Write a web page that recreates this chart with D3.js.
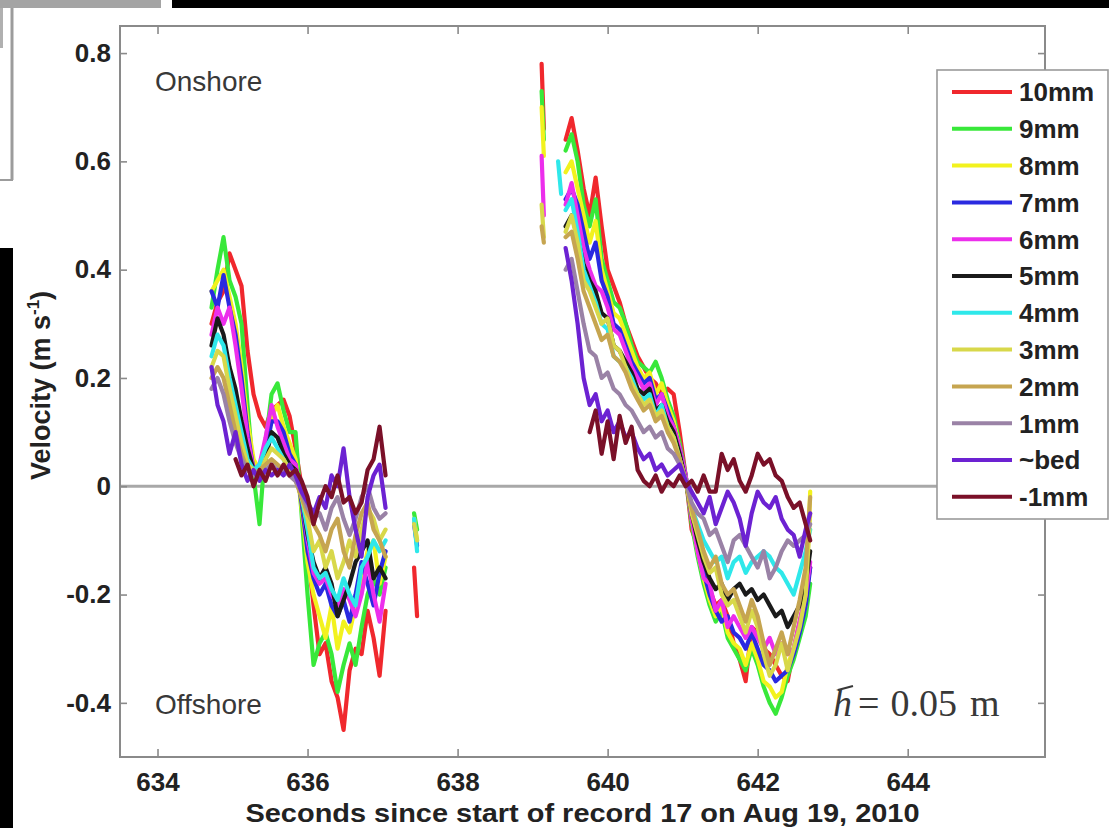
<!DOCTYPE html>
<html>
<head>
<meta charset="utf-8">
<script src="https://cdn.jsdelivr.net/npm/d3@7"></script>
<style>
  html, body { margin: 0; padding: 0; background: #fff; }
  svg { display: block; }
</style>
</head>
<body>
<svg id="chart" width="1109" height="828"></svg>
<script>
// ---- data -------------------------------------------------------------
const seriesLabels = ["10mm", "9mm", "8mm", "7mm", "6mm", "5mm", "4mm", "3mm", "2mm", "1mm", "~bed", "-1mm"];
const seriesColors = ["#f0282d", "#38e83a", "#f2f21e", "#2a2ae0", "#ec2eec", "#1a1a1a",
                      "#2ee8ea", "#d8d84a", "#c6a550", "#9a82a6", "#6c22d2", "#7a1028"];

const xTicks = [634, 636, 638, 640, 642, 644];
const yTicks = [-0.4, -0.2, 0, 0.2, 0.4, 0.6, 0.8];
const yTickLabels = ["-0.4", "-0.2", "0", "0.2", "0.4", "0.6", "0.8"];

// first wave (seconds)
const timeWave1 = [634.72, 634.80, 634.88, 634.96, 635.04, 635.12, 635.20, 635.28, 635.36, 635.44,
                   635.52, 635.60, 635.68, 635.76, 635.84, 635.92, 636.00, 636.08, 636.16, 636.24,
                   636.32, 636.40, 636.48, 636.56, 636.64, 636.72, 636.80, 636.88, 636.96, 637.04];
// short isolated fragments (null = break)
const timeFrag = [637.42, 637.46, null, 639.12, 639.15, null, 639.34, 639.38];
// second wave (seconds)
const timeWave2 = [639.44, 639.52, 639.60, 639.68, 639.76, 639.84, 639.92, 640.00, 640.08, 640.16,
                   640.24, 640.32, 640.40, 640.48, 640.56, 640.64, 640.72, 640.80, 640.88, 640.96,
                   641.04, 641.12, 641.20, 641.28, 641.36, 641.44, 641.52, 641.60, 641.68, 641.76,
                   641.84, 641.92, 642.00, 642.08, 642.16, 642.24, 642.32, 642.40, 642.48, 642.56,
                   642.64, 642.70];

// velocities (m/s), first wave
const w1_p10 = [0.30, 0.34, 0.36, 0.43, 0.40, 0.37, 0.25, 0.17, 0.13, 0.11, 0.14, 0.15, 0.16, 0.13, 0.07, 0.00, -0.12, -0.22, -0.31, -0.29, -0.36, -0.39, -0.45, -0.34, -0.30, -0.31, -0.23, -0.28, -0.35, -0.23];
const w1_p9  = [0.33, 0.40, 0.46, 0.38, 0.35, 0.30, 0.15, 0.02, -0.07, 0.08, 0.17, 0.19, 0.14, 0.10, 0.10, -0.05, -0.20, -0.33, -0.29, -0.27, -0.31, -0.38, -0.33, -0.29, -0.33, -0.26, -0.20, -0.17, -0.20, -0.15];
const w1_p8  = [0.36, 0.38, 0.40, 0.35, 0.30, 0.22, 0.12, 0.05, 0.03, 0.08, 0.13, 0.15, 0.11, 0.08, 0.05, -0.04, -0.14, -0.20, -0.24, -0.28, -0.22, -0.30, -0.25, -0.27, -0.22, -0.17, -0.12, -0.10, -0.18, -0.13];
const w1_p7  = [0.36, 0.33, 0.39, 0.33, 0.28, 0.20, 0.10, 0.03, 0.02, 0.06, 0.12, 0.12, 0.10, 0.06, 0.04, -0.03, -0.12, -0.17, -0.20, -0.18, -0.22, -0.24, -0.21, -0.25, -0.20, -0.14, -0.18, -0.22, -0.16, -0.12];
const w1_p6  = [0.28, 0.33, 0.30, 0.33, 0.26, 0.18, 0.09, 0.03, 0.04, 0.09, 0.15, 0.11, 0.08, 0.05, 0.04, -0.02, -0.10, -0.16, -0.18, -0.17, -0.20, -0.22, -0.19, -0.21, -0.24, -0.20, -0.14, -0.20, -0.25, -0.18];
const w1_p5  = [0.26, 0.31, 0.28, 0.22, 0.18, 0.12, 0.07, 0.03, 0.02, 0.05, 0.10, 0.09, 0.06, 0.04, 0.03, -0.02, -0.09, -0.14, -0.17, -0.15, -0.18, -0.24, -0.21, -0.18, -0.14, -0.12, -0.10, -0.17, -0.15, -0.17];
const w1_p4  = [0.24, 0.28, 0.26, 0.20, 0.15, 0.10, 0.05, 0.03, 0.04, 0.07, 0.09, 0.07, 0.05, 0.03, 0.02, -0.02, -0.08, -0.15, -0.17, -0.16, -0.19, -0.21, -0.17, -0.20, -0.22, -0.15, -0.13, -0.10, -0.12, -0.10];
const w1_p3  = [0.22, 0.25, 0.24, 0.18, 0.13, 0.08, 0.04, 0.03, 0.02, 0.05, 0.07, 0.06, 0.05, 0.03, 0.02, -0.02, -0.06, -0.12, -0.10, -0.15, -0.12, -0.17, -0.14, -0.10, -0.13, -0.08, -0.04, -0.06, -0.10, -0.08];
const w1_p2  = [0.20, 0.22, 0.20, 0.15, 0.10, 0.06, 0.03, 0.02, 0.03, 0.04, 0.05, 0.04, 0.03, 0.02, 0.01, -0.02, -0.05, -0.07, -0.09, -0.12, -0.08, -0.06, -0.12, -0.15, -0.09, -0.05, -0.03, -0.08, -0.10, -0.13];
const w1_p1  = [0.18, 0.20, 0.17, 0.12, 0.08, 0.05, 0.03, 0.02, 0.02, 0.03, 0.04, 0.03, 0.03, 0.02, 0.01, -0.01, -0.04, -0.06, -0.05, -0.08, -0.04, -0.02, -0.06, -0.09, -0.06, -0.02, 0.00, -0.04, -0.06, -0.05];
const w1_bed = [0.22, 0.15, 0.12, 0.06, 0.10, 0.04, 0.01, 0.03, 0.01, 0.03, 0.02, 0.03, 0.02, 0.04, 0.02, -0.01, -0.03, -0.05, -0.02, -0.04, 0.02, 0.00, 0.07, -0.02, -0.08, -0.13, -0.02, 0.02, 0.04, -0.04];
const w1_m1  = [null, null, null, null, 0.05, 0.02, 0.04, 0.00, 0.03, 0.01, 0.04, 0.02, 0.04, 0.02, 0.03, 0.01, -0.02, -0.07, -0.03, 0.00, -0.02, 0.02, -0.03, -0.02, -0.05, -0.03, 0.03, 0.05, 0.11, 0.02];

// velocities (m/s), isolated fragments
const fr_p10 = [-0.15, -0.24, null, 0.78, 0.66, null, null, null];
const fr_p9  = [-0.05, -0.08, null, 0.73, 0.64, null, null, null];
const fr_p8  = [-0.06, -0.10, null, 0.70, 0.61, null, null, null];
const fr_p7  = [-0.07, -0.11, null, null, null, null, null, null];
const fr_p6  = [null, null, null, 0.61, 0.50, null, null, null];
const fr_p5  = [null, null, null, null, null, null, null, null];
const fr_p4  = [-0.06, -0.12, null, null, null, null, 0.60, 0.54];
const fr_p3  = [-0.07, -0.10, null, 0.52, 0.46, null, null, null];
const fr_p2  = [null, null, null, 0.48, 0.45, null, null, null];
const fr_p1  = [null, null, null, null, null, null, null, null];
const fr_bed = [null, null, null, null, null, null, null, null];
const fr_m1  = [null, null, null, null, null, null, null, null];

// velocities (m/s), second wave
const w2_p10 = [0.64, 0.68, 0.62, 0.55, 0.50, 0.57, 0.48, 0.40, 0.37, 0.34, 0.30, 0.27, 0.24, 0.22, 0.20, 0.19, 0.17, 0.18, 0.17, 0.10, 0.02, -0.08, -0.11, -0.16, -0.19, -0.22, -0.21, -0.24, -0.29, -0.32, -0.36, -0.26, -0.27, -0.30, -0.31, -0.33, -0.35, -0.36, -0.30, -0.25, -0.20, -0.15];
const w2_p9  = [0.62, 0.65, 0.60, 0.52, 0.48, 0.53, 0.42, 0.38, 0.34, 0.33, 0.30, 0.26, 0.23, 0.22, 0.21, 0.23, 0.20, 0.16, 0.13, 0.08, 0.02, -0.07, -0.13, -0.18, -0.22, -0.25, -0.23, -0.28, -0.30, -0.32, -0.34, -0.30, -0.33, -0.37, -0.40, -0.42, -0.39, -0.35, -0.32, -0.28, -0.24, -0.18];
const w2_p8  = [0.58, 0.60, 0.55, 0.50, 0.45, 0.49, 0.40, 0.36, 0.32, 0.31, 0.28, 0.25, 0.22, 0.20, 0.21, 0.17, 0.19, 0.15, 0.12, 0.07, 0.02, -0.06, -0.12, -0.17, -0.21, -0.24, -0.22, -0.27, -0.29, -0.30, -0.33, -0.29, -0.32, -0.36, -0.37, -0.39, -0.38, -0.33, -0.30, -0.26, -0.22, -0.01];
const w2_p7  = [0.53, 0.55, 0.52, 0.47, 0.42, 0.45, 0.38, 0.35, 0.30, 0.29, 0.26, 0.23, 0.21, 0.19, 0.20, 0.16, 0.17, 0.14, 0.11, 0.07, 0.02, -0.06, -0.11, -0.16, -0.20, -0.23, -0.25, -0.24, -0.27, -0.28, -0.30, -0.27, -0.30, -0.33, -0.34, -0.36, -0.35, -0.34, -0.31, -0.27, -0.22, -0.15];
const w2_p6  = [0.52, 0.56, 0.50, 0.44, 0.40, 0.37, 0.36, 0.33, 0.29, 0.28, 0.25, 0.22, 0.20, 0.18, 0.19, 0.15, 0.17, 0.13, 0.11, 0.07, 0.02, -0.06, -0.12, -0.17, -0.18, -0.23, -0.21, -0.26, -0.24, -0.26, -0.28, -0.26, -0.28, -0.30, -0.28, -0.31, -0.29, -0.31, -0.30, -0.25, -0.20, -0.14];
const w2_p5  = [0.48, 0.50, 0.46, 0.41, 0.38, 0.36, 0.32, 0.31, 0.26, 0.25, 0.23, 0.21, 0.18, 0.17, 0.18, 0.14, 0.15, 0.12, 0.10, 0.06, 0.01, -0.05, -0.10, -0.14, -0.17, -0.19, -0.18, -0.21, -0.19, -0.18, -0.20, -0.19, -0.21, -0.20, -0.22, -0.24, -0.23, -0.26, -0.24, -0.22, -0.18, -0.12];
const w2_p4  = [0.51, 0.53, 0.47, 0.40, 0.37, 0.34, 0.30, 0.29, 0.24, 0.23, 0.22, 0.20, 0.17, 0.16, 0.17, 0.13, 0.15, 0.11, 0.09, 0.05, 0.01, -0.04, -0.07, -0.10, -0.12, -0.14, -0.13, -0.17, -0.14, -0.13, -0.16, -0.14, -0.13, -0.12, -0.13, -0.15, -0.16, -0.18, -0.20, -0.16, -0.12, -0.08];
const w2_p3  = [0.47, 0.50, 0.45, 0.38, 0.36, 0.33, 0.30, 0.31, 0.26, 0.25, 0.22, 0.19, 0.17, 0.15, 0.16, 0.13, 0.14, 0.11, 0.09, 0.05, 0.01, -0.05, -0.09, -0.13, -0.16, -0.15, -0.20, -0.22, -0.21, -0.24, -0.27, -0.23, -0.26, -0.31, -0.35, -0.33, -0.29, -0.34, -0.30, -0.26, -0.20, -0.05];
const w2_p2  = [0.46, 0.47, 0.42, 0.36, 0.33, 0.30, 0.27, 0.28, 0.24, 0.23, 0.21, 0.18, 0.16, 0.14, 0.15, 0.12, 0.13, 0.10, 0.08, 0.05, 0.01, -0.04, -0.08, -0.12, -0.15, -0.13, -0.18, -0.20, -0.19, -0.22, -0.25, -0.21, -0.24, -0.29, -0.33, -0.30, -0.27, -0.31, -0.26, -0.21, -0.15, -0.02];
const w2_p1  = [0.40, 0.42, 0.36, 0.30, 0.25, 0.24, 0.20, 0.21, 0.18, 0.17, 0.15, 0.14, 0.12, 0.10, 0.11, 0.09, 0.10, 0.07, 0.06, 0.04, 0.01, -0.03, -0.05, -0.06, -0.09, -0.08, -0.11, -0.14, -0.10, -0.09, -0.11, -0.13, -0.15, -0.12, -0.17, -0.15, -0.12, -0.10, -0.11, -0.10, -0.09, -0.07];
const w2_bed = [0.44, 0.38, 0.30, 0.20, 0.15, 0.17, 0.12, 0.14, 0.10, 0.12, 0.09, 0.10, 0.07, 0.05, 0.06, 0.03, 0.04, 0.02, 0.03, 0.04, 0.01, -0.01, -0.03, -0.05, -0.02, -0.07, -0.04, -0.01, -0.03, -0.06, -0.11, -0.05, -0.01, -0.03, -0.04, -0.02, -0.06, -0.08, -0.09, -0.13, -0.08, -0.05];
const w2_m1  = [null, null, null, null, 0.10, 0.14, 0.06, 0.12, 0.05, 0.13, 0.08, 0.11, 0.03, 0.01, 0.00, 0.02, -0.01, 0.01, 0.00, 0.02, 0.00, 0.01, -0.01, 0.02, -0.01, -0.01, 0.06, 0.03, 0.05, 0.01, -0.01, 0.02, 0.06, 0.04, 0.05, 0.02, 0.01, -0.02, -0.04, -0.03, -0.07, -0.10];

const wave1Values = [w1_p10, w1_p9, w1_p8, w1_p7, w1_p6, w1_p5, w1_p4, w1_p3, w1_p2, w1_p1, w1_bed, w1_m1];
const fragValues  = [fr_p10, fr_p9, fr_p8, fr_p7, fr_p6, fr_p5, fr_p4, fr_p3, fr_p2, fr_p1, fr_bed, fr_m1];
const wave2Values = [w2_p10, w2_p9, w2_p8, w2_p7, w2_p6, w2_p5, w2_p4, w2_p3, w2_p2, w2_p1, w2_bed, w2_m1];

// ---- layout -----------------------------------------------------------
const svg = d3.select("#chart");
const SANS = "'Liberation Sans', Arial, Helvetica, sans-serif";
const SERIF = "'Liberation Serif', 'Times New Roman', serif";
const plot = { left: 120, right: 1045, top: 26, bottom: 757 };

// surrounding page fragments
svg.append("rect").attr("x", 0).attr("y", 0).attr("width", 1109).attr("height", 828).attr("fill", "#fff");
svg.append("rect").attr("x", 0).attr("y", 0).attr("width", 161).attr("height", 8).attr("fill", "#a4a4a4");
svg.append("rect").attr("x", 172).attr("y", 0).attr("width", 937).attr("height", 8).attr("fill", "#000");
svg.append("rect").attr("x", 0).attr("y", 8).attr("width", 3).attr("height", 40).attr("fill", "#b0b0b0");
svg.append("line").attr("x1", 12).attr("x2", 12).attr("y1", 8).attr("y2", 180).attr("stroke", "#9c9c9c").attr("stroke-width", 3);
svg.append("line").attr("x1", 0).attr("x2", 13).attr("y1", 180).attr("y2", 180).attr("stroke", "#9c9c9c").attr("stroke-width", 2);
svg.append("rect").attr("x", 0).attr("y", 248).attr("width", 13).attr("height", 580).attr("fill", "#000");

const x = d3.scaleLinear().domain([633.5, 645.83]).range([plot.left, plot.right]);
const y = d3.scaleLinear().domain([-0.5, 0.85]).range([plot.bottom, plot.top]);

const defs = svg.append("defs");
defs.append("clipPath").attr("id", "plotClip")
  .append("rect").attr("x", plot.left).attr("y", plot.top)
  .attr("width", plot.right - plot.left).attr("height", plot.bottom - plot.top);

// zero reference line
svg.append("line")
  .attr("x1", plot.left).attr("x2", plot.right)
  .attr("y1", y(0)).attr("y2", y(0))
  .attr("stroke", "#a8a8a8").attr("stroke-width", 3);

// velocity traces, drawn 10mm first so the near-bed records sit on top
const line = d3.line()
  .defined(d => d[0] != null && d[1] != null)
  .x(d => x(d[0])).y(d => y(d[1]));

const traces = svg.append("g").attr("clip-path", "url(#plotClip)");
seriesLabels.forEach((name, i) => {
  const parts = [
    d3.zip(timeWave1, wave1Values[i]),
    d3.zip(timeFrag, fragValues[i]),
    d3.zip(timeWave2, wave2Values[i])
  ];
  parts.forEach(pts => {
    traces.append("path")
      .attr("d", line(pts))
      .attr("fill", "none")
      .attr("stroke", seriesColors[i])
      .attr("stroke-width", 4.2)
      .attr("stroke-linejoin", "round")
      .attr("stroke-linecap", "round");
  });
});

// axes: box with inward ticks on all four sides
const axisColor = "#8a8a8a";
function styleAxis(g) {
  g.select(".domain").remove();
  g.selectAll(".tick line").attr("stroke", axisColor).attr("stroke-width", 1.6);
  g.selectAll(".tick text")
    .attr("fill", "#222")
    .attr("font-family", SANS)
    .attr("font-weight", "bold")
    .attr("font-size", 26);
}

svg.append("g").attr("transform", `translate(0,${plot.bottom})`)
  .call(d3.axisBottom(x).tickValues(xTicks).tickFormat(d3.format("d")).tickSize(-8).tickPadding(16))
  .call(styleAxis);
svg.append("g").attr("transform", `translate(0,${plot.top})`)
  .call(d3.axisTop(x).tickValues(xTicks).tickFormat("").tickSize(-8))
  .call(styleAxis);
svg.append("g").attr("transform", `translate(${plot.left},0)`)
  .call(d3.axisLeft(y).tickValues(yTicks).tickFormat((d, i) => yTickLabels[i]).tickSize(-7).tickPadding(9))
  .call(styleAxis);
svg.append("g").attr("transform", `translate(${plot.right},0)`)
  .call(d3.axisRight(y).tickValues(yTicks).tickFormat("").tickSize(-7))
  .call(styleAxis);

svg.append("rect")
  .attr("x", plot.left).attr("y", plot.top)
  .attr("width", plot.right - plot.left).attr("height", plot.bottom - plot.top)
  .attr("fill", "none").attr("stroke", axisColor).attr("stroke-width", 2);

// axis titles
svg.append("text")
  .attr("x", (plot.left + plot.right) / 2).attr("y", 822)
  .attr("text-anchor", "middle")
  .attr("font-family", SANS).attr("font-weight", "bold").attr("font-size", 26)
  .attr("fill", "#222")
  .attr("textLength", 674).attr("lengthAdjust", "spacingAndGlyphs")
  .text("Seconds since start of record 17 on Aug 19, 2010");

const yTitle = svg.append("text")
  .attr("transform", `translate(50,${(plot.top + plot.bottom) / 2 - 6}) rotate(-90)`)
  .attr("text-anchor", "middle")
  .attr("font-family", SANS).attr("font-weight", "bold").attr("font-size", 27)
  .attr("fill", "#222");
yTitle.append("tspan").text("Velocity (m s");
yTitle.append("tspan").attr("dy", -11).attr("font-size", 17).text("-1");
yTitle.append("tspan").attr("dy", 11).text(")");

// annotations
svg.append("text").attr("x", 155).attr("y", 91)
  .attr("font-family", SANS).attr("font-size", 28).attr("fill", "#383838")
  .text("Onshore");
svg.append("text").attr("x", 155).attr("y", 714)
  .attr("font-family", SANS).attr("font-size", 28).attr("fill", "#383838")
  .text("Offshore");

const hLabel = svg.append("text").attr("x", 833).attr("y", 716)
  .attr("font-family", SERIF).attr("font-size", 38).attr("fill", "#383838");
hLabel.append("tspan").attr("font-style", "italic").text("h");
hLabel.append("tspan").attr("dx", 6).text("=");
hLabel.append("tspan").attr("dx", 11).text("0.05");
hLabel.append("tspan").attr("dx", 13).text("m");
svg.append("line")
  .attr("x1", 838).attr("x2", 853).attr("y1", 690).attr("y2", 686)
  .attr("stroke", "#383838").attr("stroke-width", 2.2);

// legend
const legend = svg.append("g");
legend.append("rect")
  .attr("x", 937).attr("y", 70).attr("width", 171).attr("height", 449)
  .attr("fill", "#fff").attr("stroke", "#9a9a9a").attr("stroke-width", 1.6);
const rowY = i => 92 + i * 36.8;
seriesLabels.forEach((name, i) => {
  legend.append("line")
    .attr("x1", 952).attr("x2", 1012)
    .attr("y1", rowY(i)).attr("y2", rowY(i))
    .attr("stroke", seriesColors[i]).attr("stroke-width", 4);
  legend.append("text")
    .attr("x", 1019).attr("y", rowY(i)).attr("dy", "0.36em")
    .attr("font-family", SANS).attr("font-weight", "bold").attr("font-size", 26)
    .attr("fill", "#222")
    .text(name);
});
</script>
</body>
</html>
